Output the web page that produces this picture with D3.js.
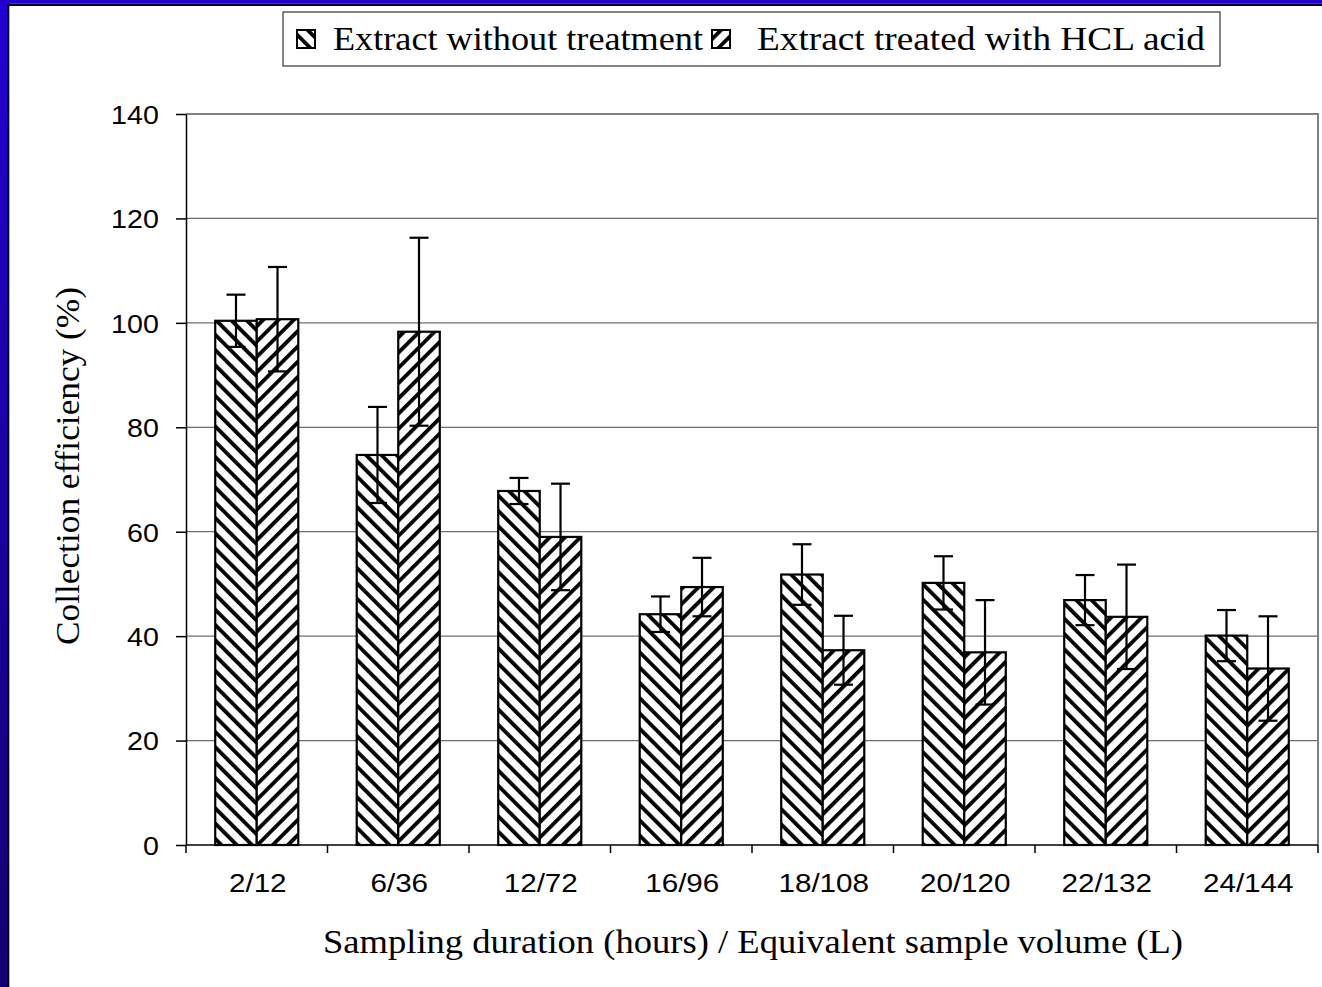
<!DOCTYPE html>
<html>
<head>
<meta charset="utf-8">
<script src="https://cdn.jsdelivr.net/npm/d3@7"></script>
<style>
  html, body { margin: 0; padding: 0; background: #fff; }
  svg { display: block; }
</style>
</head>
<body>
<script>
const categories = ["2/12", "6/36", "12/72", "16/96", "18/108", "20/120", "22/132", "24/144"];
const seriesNames = ["Extract without treatment", "Extract treated with HCL acid"];
const untreated = [100.4, 74.7, 67.8, 44.2, 51.8, 50.2, 46.9, 40.1];
const untreatedErr = [5.0, 9.2, 2.5, 3.4, 5.8, 5.1, 4.8, 4.9];
const treated = [100.7, 98.3, 59.0, 49.4, 37.3, 36.9, 43.7, 33.8];
const treatedErr = [10.0, 18.0, 10.2, 5.6, 6.6, 10.0, 10.0, 10.0];
const yTicks = [0, 20, 40, 60, 80, 100, 120, 140];
const xTitle = "Sampling duration (hours) / Equivalent sample volume (L)";
const yTitle = "Collection efficiency (%)";

const W = 1322, H = 987;
const SX = 1.11; // horizontal stretch of text in the reference
const plot = { left: 186, right: 1318, top: 114, bottom: 845 };
const SERIF = "'Liberation Serif', 'Times New Roman', serif";
const SANS = "'Liberation Sans', Arial, sans-serif";

const svg = d3.select("body").append("svg").attr("width", W).attr("height", H);
const defs = svg.append("defs");

// frame gradient
const grad = defs.append("linearGradient").attr("id", "frameGrad")
  .attr("x1", 0).attr("y1", 0).attr("x2", 0).attr("y2", 1);
grad.append("stop").attr("offset", "0%").attr("stop-color", "#2400d2");
grad.append("stop").attr("offset", "100%").attr("stop-color", "#120070");

// hatch patterns
function hatch(id, angle) {
  const p = defs.append("pattern").attr("id", id)
    .attr("patternUnits", "userSpaceOnUse")
    .attr("width", 10.8).attr("height", 10.8)
    .attr("patternTransform", `rotate(${angle})`);
  p.append("rect").attr("width", 10.8).attr("height", 10.8).attr("fill", "#fff");
  p.append("rect").attr("x", 0).attr("y", 0).attr("width", 3.8).attr("height", 10.8).attr("fill", "#000");
}
hatch("hatchBack", -45);   // "\" direction
hatch("hatchFwd", 45);     // "/" direction
const fills = ["url(#hatchBack)", "url(#hatchFwd)"];

// background & frame
svg.append("rect").attr("width", W).attr("height", H).attr("fill", "#fff");
svg.append("rect").attr("x", 0).attr("y", 0).attr("width", 7).attr("height", H).attr("fill", "url(#frameGrad)");
svg.append("rect").attr("x", 0).attr("y", 0).attr("width", W).attr("height", 3.5).attr("fill", "#2200cc");
svg.append("rect").attr("x", 7).attr("y", 3.5).attr("width", W).attr("height", 2.5).attr("fill", "#000");
svg.append("rect").attr("x", 7).attr("y", 3.5).attr("width", 2.3).attr("height", H).attr("fill", "#000");

// scales
const x = d3.scaleBand().domain(categories).range([plot.left, plot.right]).padding(0);
const groupW = x.bandwidth() * 0.587;
const xi = d3.scaleBand().domain([0, 1]).range([0, groupW]).padding(0);
const y = d3.scaleLinear().domain([0, 140]).range([plot.bottom, plot.top]);

// gridlines
svg.append("g").selectAll("line").data(yTicks.filter(t => t > 0 && t < 140)).join("line")
  .attr("x1", plot.left).attr("x2", plot.right)
  .attr("y1", d => y(d)).attr("y2", d => y(d))
  .attr("stroke", "#6e6e6e").attr("stroke-width", 1.2);

// plot border (top & right)
svg.append("path")
  .attr("d", `M${plot.left},${y(140)}H${plot.right}V${plot.bottom}`)
  .attr("fill", "none").attr("stroke", "#808080").attr("stroke-width", 2);

// bars
const seriesVals = [untreated, treated];
const seriesErr = [untreatedErr, treatedErr];
const gBars = svg.append("g");
categories.forEach((c, i) => {
  const gx = x(c) + (x.bandwidth() - groupW) / 2;
  [0, 1].forEach(s => {
    gBars.append("rect")
      .attr("x", gx + xi(s)).attr("y", y(seriesVals[s][i]))
      .attr("width", xi.bandwidth()).attr("height", y(0) - y(seriesVals[s][i]))
      .attr("fill", fills[s]).attr("stroke", "#000").attr("stroke-width", 2.2);
  });
});
// error bars
const gErr = svg.append("g").attr("stroke", "#000").attr("stroke-width", 2.2);
categories.forEach((c, i) => {
  const gx = x(c) + (x.bandwidth() - groupW) / 2;
  [0, 1].forEach(s => {
    const cx = gx + xi(s) + xi.bandwidth() / 2;
    const v = seriesVals[s][i], e = seriesErr[s][i];
    gErr.append("line").attr("x1", cx).attr("x2", cx).attr("y1", y(v + e)).attr("y2", y(v - e));
    [v + e, v - e].forEach(t => {
      gErr.append("line").attr("x1", cx - 9.5).attr("x2", cx + 9.5).attr("y1", y(t)).attr("y2", y(t));
    });
  });
});

// y axis
const yAxis = svg.append("g").attr("transform", `translate(${plot.left},0)`)
  .call(d3.axisLeft(y).tickValues(yTicks).tickSize(10).tickSizeOuter(0));
yAxis.select(".domain").attr("stroke", "#000").attr("stroke-width", 1.5);
yAxis.selectAll(".tick line").attr("stroke", "#000").attr("stroke-width", 1.5);
yAxis.selectAll(".tick text")
  .attr("x", -24.5).attr("dy", "0.36em")
  .attr("transform", `scale(${SX},1)`)
  .attr("font-family", SANS)
  .attr("font-size", 25.8).attr("fill", "#000");

// x axis (baseline)
svg.append("line").attr("x1", plot.left).attr("x2", plot.right)
  .attr("y1", plot.bottom).attr("y2", plot.bottom)
  .attr("stroke", "#000").attr("stroke-width", 1.5);
const bounds = categories.map(c => x(c)).concat([x(categories[categories.length - 1]) + x.bandwidth()]);
svg.append("g").selectAll("line").data(bounds).join("line")
  .attr("x1", d => d).attr("x2", d => d)
  .attr("y1", plot.bottom).attr("y2", plot.bottom + 8)
  .attr("stroke", "#000").attr("stroke-width", 1.5);
svg.append("g").selectAll("text").data(categories).join("text")
  .attr("transform", d => `translate(${x(d) + x.bandwidth() / 2 + 1},892) scale(${SX + 0.03},1)`)
  .attr("text-anchor", "middle")
  .attr("font-family", SANS)
  .attr("font-size", 26).attr("fill", "#000")
  .text(d => d);

// axis titles
svg.append("text")
  .attr("x", 323).attr("y", 953)
  .attr("textLength", 860).attr("lengthAdjust", "spacingAndGlyphs")
  .attr("font-family", SERIF)
  .attr("font-size", 33).attr("fill", "#000")
  .text(xTitle);
svg.append("text")
  .attr("transform", `translate(79,645) rotate(-90)`)
  .attr("textLength", 358).attr("lengthAdjust", "spacingAndGlyphs")
  .attr("font-family", SERIF)
  .attr("font-size", 34).attr("fill", "#000")
  .text(yTitle);

// legend
const lg = svg.append("g");
lg.append("rect").attr("x", 283).attr("y", 12).attr("width", 937).attr("height", 54)
  .attr("fill", "#fff").attr("stroke", "#333").attr("stroke-width", 1.2);
const legendItems = [{ ix: 297, tx: 333, w: 370 }, { ix: 712, tx: 757, w: 448 }];
legendItems.forEach((it, s) => {
  lg.append("rect").attr("x", it.ix).attr("y", 30).attr("width", 18).attr("height", 18)
    .attr("fill", fills[s]).attr("stroke", "#000").attr("stroke-width", 2);
  lg.append("text")
    .attr("x", it.tx).attr("y", 50)
    .attr("textLength", it.w).attr("lengthAdjust", "spacingAndGlyphs")
    .attr("font-family", SERIF)
    .attr("font-size", 33).attr("fill", "#000")
    .text(seriesNames[s]);
});
</script>
</body>
</html>
